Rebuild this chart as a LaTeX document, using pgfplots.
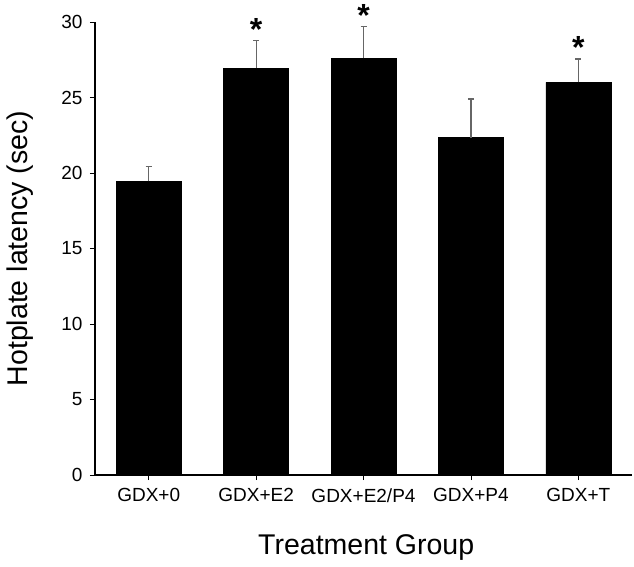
\documentclass[border=0pt]{standalone}
\usepackage{fontspec}
\setmainfont{Liberation Sans}
\usepackage{pgfplots}
\pgfplotsset{compat=1.18}
\begin{document}
\begin{tikzpicture}[x=1pt,y=1pt]
\useasboundingbox (-95,-91) rectangle (539,475);
\begin{axis}[
  at={(0,0)}, anchor=south west,
  scale only axis,
  width=537pt, height=453pt,
  xmin=-0.5, xmax=4.5,
  ymin=0, ymax=30,
  ytick={0,5,10,15,20,25,30},
  xtick={0,1,2,3,4},
  xticklabels={GDX+0,GDX+E2,GDX+E2/P4,GDX+P4,GDX+T},
  axis lines*=left,
  axis line style={line width=1.4pt, black},
  tick align=outside,
  major tick length=5pt,
  tick style={line width=0.8pt, black},
  /pgf/number format/assume math mode=true,
  yticklabel style={font=\fontsize{19}{22}\selectfont, xshift=-4pt},
  xticklabel style={font=\fontsize{19}{22}\selectfont, yshift=-5pt},
  ylabel={Hotplate latency (sec)},
  ylabel style={font=\fontsize{28.5}{32}\selectfont, at={(axis description cs:-0.14,0.5)}, anchor=center},
  xlabel={Treatment Group},
  xlabel style={font=\fontsize{28.5}{32}\selectfont, at={(axis description cs:0.505,-0.161)}, anchor=center},
  clip=false,
]
\addplot[ybar, bar width=65pt, fill=black, draw=black,
  error bars/.cd, y dir=plus, y explicit,
  error bar style={line width=1.2pt, black!60},
  error mark options={rotate=90, mark size=3pt, line width=1.2pt, black!60}]
  coordinates {
  (0,19.45) +- (0,1.0)
  (1,26.95) +- (0,1.8)
  (2,27.6) +- (0,2.1)
  (3,22.35) +- (0,2.55)
  (4,26.0) +- (0,1.55)
  };
\addplot[draw=none, mark=none,
  nodes near coords={\fontsize{32}{32}\selectfont\bfseries *},
  every node near coord/.append style={anchor=base, inner sep=0pt, yshift=0pt}]
  coordinates {(1,28.75) (2,29.7) (4,27.55)};
\end{axis}
\end{tikzpicture}
\end{document}
